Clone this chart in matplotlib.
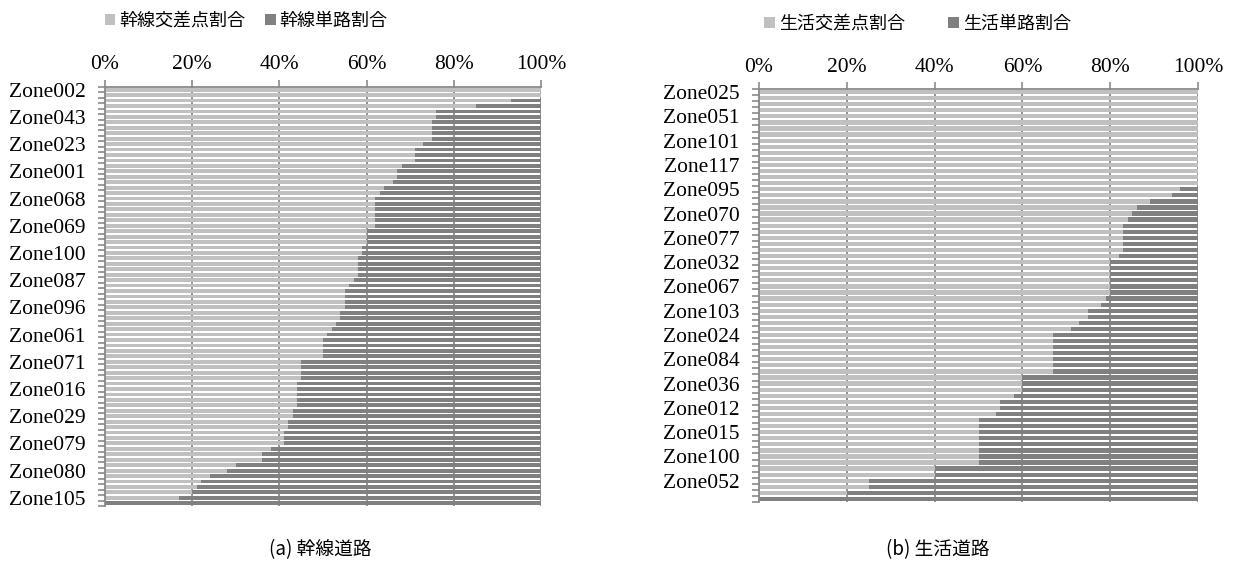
import matplotlib.pyplot as plt
import numpy as np
from matplotlib.ticker import FixedLocator, PercentFormatter

plt.rcParams['font.family'] = ['Liberation Serif', 'Noto Sans CJK JP']

LIGHT = "#c0c0c0"
DARK = "#808080"
GRID = "#8a8a8a"

# (a) trunk roads: intersection share (%) per zone, top to bottom
trunk_cross = [
    100, 100, 93, 85, 76, 76, 75, 75, 75, 75,
    73, 71, 71, 71, 68, 67, 67, 66, 64, 63,
    62, 62, 62, 62, 62, 62, 60, 60, 60, 59,
    59, 58, 58, 58, 58, 57, 56, 55, 55, 55,
    55, 54, 54, 53, 52, 51, 50, 50, 50, 50,
    45, 45, 45, 45, 44, 44, 44, 44, 44, 43,
    43, 42, 42, 41, 41, 41, 38, 36, 36, 30,
    28, 24, 22, 21, 20, 17, 0,
]
trunk_labels = [
    "Zone002", "Zone043", "Zone023", "Zone001", "Zone068", "Zone069",
    "Zone100", "Zone087", "Zone096", "Zone061", "Zone071", "Zone016",
    "Zone029", "Zone079", "Zone080", "Zone105",
]
trunk_names = ["幹線交差点割合", "幹線単路割合"]

# (b) local roads
life_cross = [
    100, 100, 100, 100, 100, 100, 100, 100, 100, 100,
    100, 100, 100, 100, 100, 100, 96, 94, 89, 86,
    85, 84, 83, 83, 83, 83, 83, 82, 80, 80,
    80, 80, 80, 80, 79, 78, 75, 75, 73, 71,
    67, 67, 67, 67, 67, 67, 67, 60, 60, 60,
    58, 55, 55, 54, 50, 50, 50, 50, 50, 50,
    50, 50, 40, 40, 25, 25, 20, 0,
]
life_labels = [
    "Zone025", "Zone051", "Zone101", "Zone117", "Zone095", "Zone070",
    "Zone077", "Zone032", "Zone067", "Zone103", "Zone024", "Zone084",
    "Zone036", "Zone012", "Zone015", "Zone100", "Zone052",
]
life_names = ["生活交差点割合", "生活単路割合"]

fig = plt.figure(figsize=(12.33, 5.74), dpi=100)
ax_a = fig.add_axes([0.0852, 0.1185, 0.3536, 0.730])
ax_b = fig.add_axes([0.6156, 0.1254, 0.3560, 0.7195])


def draw_panel(ax, cross, labels, step, names, legend_x, col_gap):
    n = len(cross)
    pos = np.arange(n)
    share = np.array(cross) / 100.0
    ax.barh(pos, share, height=0.7, color=LIGHT, label=names[0], zorder=2)
    ax.barh(pos, 1 - share, left=share, height=0.7, color=DARK,
            label=names[1], zorder=2)
    ax.set_xlim(0, 1)
    ax.set_ylim(n - 0.5, -0.5)
    ax.set_axisbelow(True)

    ax.xaxis.tick_top()
    ax.set_xticks(np.linspace(0, 1, 6))
    ax.xaxis.set_major_formatter(PercentFormatter(1.0, decimals=0))
    ax.tick_params(axis="x", which="major", length=5, color=GRID, width=1.2,
                   labelsize=15.5, pad=4)
    ax.grid(axis="x", color=GRID, linewidth=1.3, zorder=0)

    ax.set_yticks(pos[::step])
    ax.set_yticklabels(labels)
    ax.yaxis.set_minor_locator(FixedLocator(np.arange(n + 1) - 0.5))
    ax.tick_params(axis="y", which="major", length=0, labelsize=15.5, pad=14)
    ax.tick_params(axis="y", which="minor", length=5, color=GRID, width=1.2)

    for side in ["bottom", "right"]:
        ax.spines[side].set_visible(False)
    for side in ["top", "left"]:
        ax.spines[side].set_color(GRID)
        ax.spines[side].set_linewidth(1.3)

    ax.legend(ncol=2, loc="center", bbox_to_anchor=(legend_x, 1 + 66 / 419),
              frameon=False, handlelength=0.6, handleheight=0.6,
              handletextpad=0.2, columnspacing=col_gap,
              prop={"family": "Noto Sans CJK JP", "size": 13})


draw_panel(ax_a, trunk_cross, trunk_labels, 5, trunk_names, 0.323, 1.1)
draw_panel(ax_b, life_cross, life_labels, 4, life_names, 0.361, 2.4)

fig.text(320 / 1233, 1 - 550 / 574, "(a) 幹線道路", ha="center", va="center",
         family="Noto Sans CJK JP", fontsize=13.5)
fig.text(938 / 1233, 1 - 550 / 574, "(b) 生活道路", ha="center", va="center",
         family="Noto Sans CJK JP", fontsize=13.5)

fig.savefig("out.png", dpi=100)
